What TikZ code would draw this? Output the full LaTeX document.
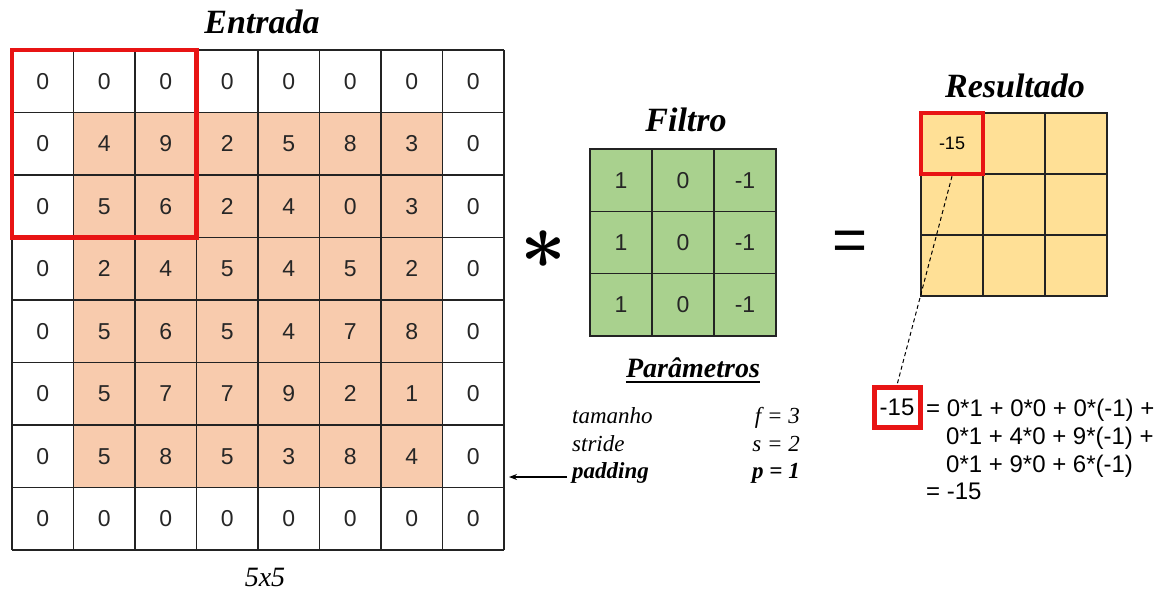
\documentclass[tikz,border=0pt]{standalone}
\usepackage{fix-cm}
\usepackage{amsmath}
\usepackage{fontspec}
\setmainfont{Liberation Serif}
\setsansfont{Liberation Sans}
\usetikzlibrary{fit,arrows.meta}
\definecolor{inorange}{RGB}{248,203,173}
\definecolor{fgreen}{RGB}{169,209,142}
\definecolor{resyel}{RGB}{255,224,150}
\definecolor{boxred}{RGB}{232,20,20}
\definecolor{gridline}{RGB}{35,35,35}
\begin{document}
\begin{tikzpicture}[x=1pt,y=-1pt,
  numfont/.style={font=\sffamily\fontsize{23}{23}\selectfont, text=black!85},
  incell/.style={numfont, inner sep=0pt, outer sep=0pt, minimum width=61.5pt, minimum height=62.5pt},
  fcell/.style={numfont, draw=gridline, line width=1.6pt, fill=fgreen, inner sep=0pt, outer sep=0pt, minimum width=62pt, minimum height=62.3pt},
  rcell/.style={draw=gridline, line width=1.6pt, fill=resyel, inner sep=0pt, outer sep=0pt, minimum width=62pt, minimum height=61pt, font=\sffamily\fontsize{18}{18}\selectfont},
  gridl/.style={draw=gridline, line width=1.6pt},
  redbox/.style={draw=boxred, line width=4.5pt, inner sep=0pt},
  title/.style={font=\fontsize{34}{34}\selectfont\bfseries\itshape},
  ptext/.style={font=\fontsize{23}{23}\selectfont\itshape, inner sep=0pt},
  ftext/.style={font=\sffamily\fontsize{24}{24}\selectfont, inner sep=0pt, anchor=base west},
]
\useasboundingbox (0,0) rectangle (1170,594);

% ---- input grid ----
\foreach \rowvals [count=\r from 0] in {{0,0,0,0,0,0,0,0},{0,4,9,2,5,8,3,0},{0,5,6,2,4,0,3,0},{0,2,4,5,4,5,2,0},{0,5,6,5,4,7,8,0},{0,5,7,7,9,2,1,0},{0,5,8,5,3,8,4,0},{0,0,0,0,0,0,0,0}}{
  \foreach \v [count=\c from 0] in \rowvals {
    \pgfmathtruncatemacro\isin{and(and(\r>0,\r<7),and(\c>0,\c<7))}
    \ifnum\isin=1 \def\fc{inorange}\else\def\fc{white}\fi
    \node[incell, fill=\fc] (in-\r-\c) at ({12+61.5*(\c+0.5)},{50+62.5*(\r+0.5)}) {\v};
  }
}
\foreach \i in {0,...,7}{
  \draw[gridl] (in-0-\i.north west) -- (in-7-\i.south west);
  \draw[gridl] (in-\i-0.north west) -- (in-\i-7.north east);
}
\draw[gridl] (in-0-7.north east) -- (in-7-7.south east);
\draw[gridl] (in-7-0.south west) -- (in-7-7.south east);
\node[redbox, fit=(in-0-0)(in-2-2)] (win) {};

\node[title] (tin) at (262,22) {Entrada};
\node[font=\fontsize{28}{28}\selectfont\itshape, inner sep=0pt] (size) at (265,577) {5x5};

% ---- operator ----
\node[font=\fontsize{80}{80}\selectfont] (star) at (543,250) {$\boldsymbol{\ast}$};

% ---- filter ----
\foreach \r in {0,1,2}{
  \foreach \c/\v in {0/1,1/0,2/-1}{
    \node[fcell] (f-\r-\c) at ({590+62*(\c+0.5)},{149+62.3*(\r+0.5)}) {\v};
  }
}
\node[title] (tf) at (686,120) {Filtro};

% ---- parameters ----
\node[font=\fontsize{28}{28}\selectfont\bfseries\itshape, inner sep=0pt, anchor=base] (pt) at (693,377) {Parâmetros};
\draw[line width=2.6pt] ([yshift=-5pt]pt.base west) -- ([yshift=-5pt]pt.base east);
\node[ptext, anchor=base west] (ltam) at (572,423) {tamanho};
\node[ptext, anchor=base west] (lstr) at (572,451) {stride};
\node[ptext, anchor=base west] (lpad) at (572,478) {\bfseries padding};
\node[ptext, anchor=base east] (vtam) at (800,423) {f = 3};
\node[ptext, anchor=base east] (vstr) at (800,451) {s = 2};
\node[ptext, anchor=base east] (vpad) at (800,478) {\bfseries p = 1};
\coordinate (padarrow) at ([yshift=1pt]lpad.base west -| in-6-7.east);
\draw[line width=1.2pt, -{Stealth[length=8pt,width=6pt]}] ([xshift=-5pt,yshift=1pt]lpad.base west) -- ([xshift=5pt]padarrow);

% ---- equals ----
\node (eq) at (850,246) {\sffamily\fontsize{60}{60}\selectfont =};

% ---- result ----
\foreach \r in {0,1,2}{
  \foreach \c in {0,1,2}{
    \node[rcell] (res-\r-\c) at ({921+62*(\c+0.5)},{113+61*(\r+0.5)}) {};
  }
}
\node[font=\sffamily\fontsize{18}{18}\selectfont] at (res-0-0) {-15};
\node[redbox, fit=(res-0-0)] (rwin) {};
\node[title] (tr) at (1015,86) {Resultado};

% ---- computation ----
\node[draw=boxred, line width=5pt, inner sep=0pt, minimum width=46pt, minimum height=40pt, font=\sffamily\fontsize{24}{24}\selectfont] (rbox) at (897,407.5) {-15};
\draw[dashed, dash pattern=on 4pt off 3pt, line width=1pt] (rwin.south) -- (rbox.north);
\node[ftext] (f1) at (926,416) {= 0*1 + 0*0 + 0*(-1) +};
\node[ftext] (f2) at (946,444) {0*1 + 4*0 + 9*(-1) +};
\node[ftext] (f3) at (946,472) {0*1 + 9*0 + 6*(-1)};
\node[ftext] (f4) at (926,499) {= -15};
\end{tikzpicture}
\end{document}
